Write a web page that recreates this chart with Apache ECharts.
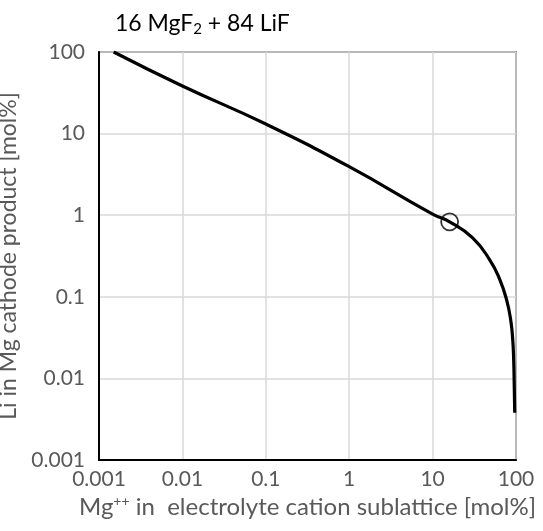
<!DOCTYPE html>
<html>
<head>
<meta charset="utf-8">
<script src="https://cdn.jsdelivr.net/npm/echarts@6/dist/echarts.min.js"></script>
<style>
    html, body { margin: 0; padding: 0; background: #fff; }
    #chart { width: 543px; height: 531px; }
</style>
</head>
<body>
<div id="chart"></div>
<script>
// Mg++ in electrolyte cation sublattice [mol%]
var mgElectrolyte = [0.0015, 0.01, 0.1, 1, 10, 16, 30, 48.8, 64.3, 77.3, 86.4, 91.3, 93.8, 95.3, 96.5];
// Li in Mg cathode product [mol%]
var liCathode = [100, 38.3, 13.1, 3.93, 1.03, 0.83, 0.53, 0.28, 0.16, 0.091, 0.052, 0.030, 0.0168, 0.0079, 0.0038];
// marked composition (16 MgF2 + 84 LiF)
var markX = [16];
var markY = [0.83];
var tickLabels = ['0.001', '0.01', '0.1', '1', '10', '100'];

var grey = '#595959';
var font = 'Lato';

function tickText(v) {
    var i = Math.round(Math.log(v) / Math.LN10) + 3;
    return tickLabels[i] || '';
}

var curve = [];
for (var i = 0; i < mgElectrolyte.length; i++) {
    curve.push([mgElectrolyte[i], liCathode[i]]);
}
var marks = [];
for (var j = 0; j < markX.length; j++) {
    marks.push([markX[j], markY[j]]);
}

var chart = echarts.init(document.getElementById('chart'));
chart.setOption({
    animation: false,
    title: {
        text: '16 MgF{sub|2} + 84 LiF',
        left: 110,
        top: 6,
        textStyle: {
            fontFamily: font,
            fontSize: 23,
            fontWeight: 'normal',
            color: '#000',
            rich: {
                sub: { fontFamily: font, fontSize: 15, color: '#000', verticalAlign: 'bottom', padding: [11, 0, 0, 0] }
            }
        }
    },
    grid: {
        left: 99,
        right: 27,
        top: 52,
        bottom: 71,
        containLabel: false,
        outerBoundsMode: 'none',
        show: true,
        borderColor: '#222',
        borderWidth: 1.5
    },
    xAxis: {
        type: 'log',
        logBase: 10,
        min: 0.001,
        max: 100,
        name: 'Mg{sup|++} in  electrolyte cation sublattice [mol%]',
        nameLocation: 'middle',
        nameGap: 25,
        nameTextStyle: {
            fontFamily: font,
            fontSize: 24,
            color: grey,
            rich: {
                sup: { fontFamily: font, fontSize: 14, color: grey, verticalAlign: 'top', padding: [0, 0, 9, 0] }
            }
        },
        axisLine: { show: true, lineStyle: { color: '#000', width: 2 } },
        axisTick: { show: false },
        splitLine: { show: true, lineStyle: { color: '#d9d9d9', width: 1.5 } },
        minorTick: { show: false },
        axisLabel: {
            fontFamily: font,
            fontSize: 21,
            color: grey,
            margin: 9,
            formatter: tickText
        }
    },
    yAxis: {
        type: 'log',
        logBase: 10,
        min: 0.001,
        max: 100,
        name: 'Li in Mg cathode product [mol%]',
        nameLocation: 'middle',
        nameGap: 64,
        nameTextStyle: { fontFamily: font, fontSize: 23, color: grey },
        axisLine: { show: true, lineStyle: { color: '#000', width: 2 } },
        axisTick: { show: false },
        splitLine: { show: true, lineStyle: { color: '#d9d9d9', width: 1.5 } },
        axisLabel: {
            fontFamily: font,
            fontSize: 21,
            color: grey,
            margin: 14,
            formatter: tickText
        }
    },
    series: [
        {
            type: 'line',
            data: curve,
            smooth: 0.5,
            showSymbol: false,
            lineStyle: { color: '#000', width: 3.2 },
            z: 3
        },
        {
            type: 'scatter',
            data: marks,
            symbol: 'circle',
            symbolSize: 17,
            itemStyle: { color: 'rgba(0,0,0,0)', borderColor: '#000', borderWidth: 1.8 },
            z: 4
        }
    ]
});
</script>
</body>
</html>
